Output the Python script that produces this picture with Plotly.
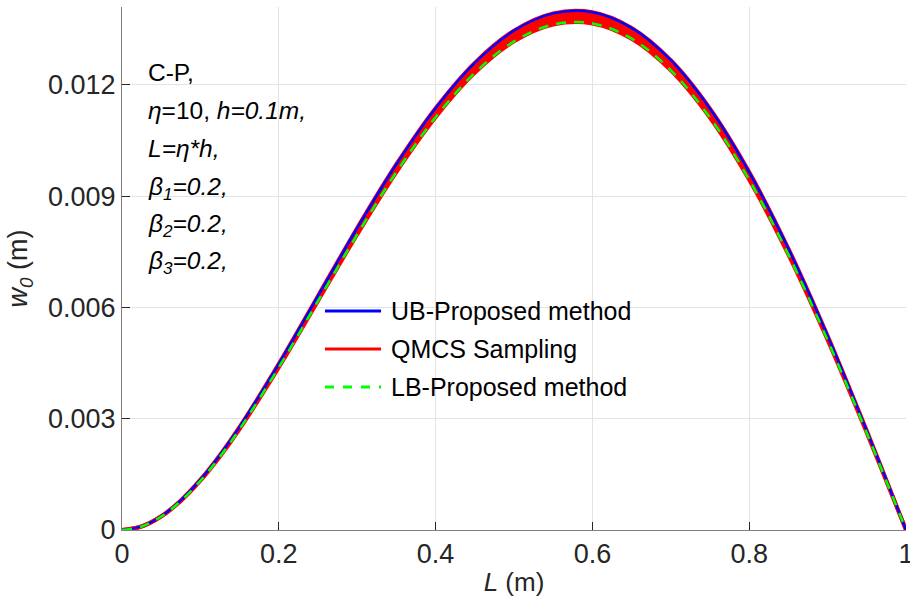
import plotly.graph_objects as go

# Data
L_vals = [0.0, 0.025, 0.05, 0.075, 0.10, 0.125, 0.15, 0.20, 0.25, 0.30, 0.35,
          0.40, 0.45, 0.50, 0.55, 0.60, 0.65, 0.70, 0.75, 0.80, 0.85, 0.90,
          0.95, 0.975, 1.0]
ub_vals = [0.0, 0.0000968, 0.000371, 0.000799, 0.001357, 0.002025, 0.002781,
           0.004480, 0.006311, 0.008142, 0.009862, 0.011373, 0.012595,
           0.013462, 0.013928, 0.013958, 0.013537, 0.012666, 0.011359,
           0.009650, 0.007587, 0.005234, 0.002673, 0.001344, 0.0]
lb_vals = [0.0, 0.0000947, 0.000363, 0.000781, 0.001328, 0.001981, 0.002721,
           0.004384, 0.006175, 0.007967, 0.009650, 0.011128, 0.012324,
           0.013173, 0.013628, 0.013657, 0.013246, 0.012393, 0.011115,
           0.009442, 0.007424, 0.005121, 0.002616, 0.001315, 0.0]

x_ticks = [0, 0.2, 0.4, 0.6, 0.8, 1]
x_labels = ["0", "0.2", "0.4", "0.6", "0.8", "1"]
y_ticks = [0, 0.003, 0.006, 0.009, 0.012]
y_labels = ["0", "0.003", "0.006", "0.009", "0.012"]

legend_names = ["UB-Proposed method", "QMCS Sampling", "LB-Proposed method"]
info_lines = ["C-P,",
              "<i>η</i>=10, <i>h=0.1m,</i>",
              "<i>L=η*h,</i>",
              "<i>β<sub>1</sub>=0.2,</i>",
              "<i>β<sub>2</sub>=0.2,</i>",
              "<i>β<sub>3</sub>=0.2,</i>"]

FONT = "Liberation Sans, Arial, sans-serif"
TXT = "#262626"
X_RANGE = [0, 1.0000001]
Y_RANGE = [0, 0.0141]

fig = go.Figure()

# QMCS band (red)
fig.add_trace(go.Scatter(x=L_vals, y=lb_vals, mode="lines",
                         line=dict(color="#ff0000", width=4, shape="spline"),
                         showlegend=False, hoverinfo="skip"))
fig.add_trace(go.Scatter(x=L_vals, y=ub_vals, mode="lines", fill="tonexty",
                         fillcolor="#ff0000",
                         line=dict(color="#ff0000", width=4, shape="spline"),
                         name=legend_names[1], showlegend=False))
# UB
fig.add_trace(go.Scatter(x=L_vals, y=ub_vals, mode="lines",
                         line=dict(color="#0000ff", width=2.5, shape="spline"),
                         name=legend_names[0], showlegend=False))
# LB
fig.add_trace(go.Scatter(x=L_vals, y=lb_vals, mode="lines",
                         line=dict(color="#00ff00", width=2.5, shape="spline",
                                   dash="10px,8px"),
                         name=legend_names[2], showlegend=False))

axis_common = dict(showgrid=True, gridcolor="#e3e3e3", gridwidth=1,
                   zeroline=False, ticks="inside", ticklen=8, tickwidth=1,
                   tickcolor=TXT, showline=True, linewidth=1,
                   ticklabeloverflow="allow", automargin=False,
                   tickfont=dict(family=FONT, size=27, color=TXT))

fig.update_layout(
    width=910, height=600,
    margin=dict(l=122, r=4, t=7, b=70),
    paper_bgcolor="white", plot_bgcolor="white",
    showlegend=False,
    xaxis=dict(range=X_RANGE, tickvals=x_ticks, ticktext=x_labels,
               linecolor="#7f7f7f",
               title=dict(text="<i>L</i> (m)", standoff=4,
                          font=dict(family=FONT, size=26, color=TXT)),
               **axis_common),
    yaxis=dict(range=Y_RANGE, tickvals=y_ticks, ticktext=y_labels,
               linecolor="#7f7f7f",
               title=dict(text="<i>w</i><sub><i>0</i></sub> (m)", standoff=12,
                          font=dict(family=FONT, size=27, color=TXT)),
               **axis_common),
    xaxis2=dict(range=X_RANGE, overlaying="x", side="top", matches="x",
                tickvals=x_ticks, showticklabels=False, showgrid=False,
                zeroline=False, ticks="inside", ticklen=8, tickwidth=1,
                automargin=False,
                tickcolor=TXT, showline=True, linecolor="#c8c8c8", linewidth=1),
    yaxis2=dict(range=Y_RANGE, overlaying="y", side="right", matches="y",
                tickvals=y_ticks, showticklabels=False, showgrid=False,
                zeroline=False, ticks="inside", ticklen=8, tickwidth=1,
                automargin=False,
                tickcolor=TXT, showline=True, linecolor=TXT, linewidth=1.5),
)

# Manual legend (long line samples like the reference)
leg_y = [0.4187, 0.3461, 0.2734]
leg_colors = ["#0000ff", "#ff0000", "#00ff00"]
leg_dash = ["solid", "solid", "dash"]
for i, name in enumerate(legend_names):
    fig.add_shape(type="line", xref="paper", yref="paper",
                  x0=0.2589, x1=0.3304, y0=leg_y[i], y1=leg_y[i],
                  line=dict(color=leg_colors[i], width=3, dash=leg_dash[i]))
    fig.add_annotation(xref="paper", yref="paper", x=0.3405, y=leg_y[i],
                       xanchor="left", yanchor="middle", showarrow=False,
                       text=name, font=dict(family=FONT, size=25, color="black"))

# Info text block
info_y = [0.8757, 0.803, 0.730, 0.653, 0.582, 0.511]
for t, yy in zip(info_lines, info_y):
    fig.add_annotation(xref="paper", yref="paper", x=0.031, y=yy,
                       xanchor="left", yanchor="middle", showarrow=False,
                       text=t, font=dict(family=FONT, size=24.5, color="black"))

fig.write_html("out.html")
